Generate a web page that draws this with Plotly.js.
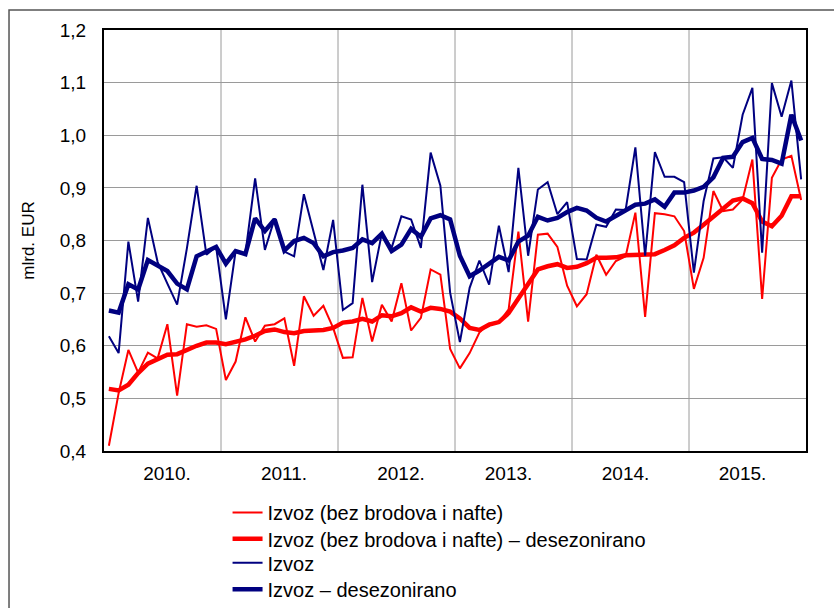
<!DOCTYPE html>
<html>
<head>
<meta charset="utf-8">
<script src="https://cdn.plot.ly/plotly-3.0.1.min.js"></script>
<style>
  html, body { margin: 0; padding: 0; background: #fff; }
  #chart { width: 834px; height: 608px; }
</style>
</head>
<body>
<div id="chart"></div>
<script>
// Monthly data, January 2010 – December 2015 (mlrd. EUR)
const yearLabels = ["2010.", "2011.", "2012.", "2013.", "2014.", "2015."];

const izvozBezBrodova = [
  0.410, 0.510, 0.592, 0.549, 0.587, 0.576, 0.641, 0.505, 0.641, 0.636, 0.639, 0.632,
  0.535, 0.570, 0.654, 0.608, 0.638, 0.641, 0.652, 0.562, 0.694, 0.657, 0.676, 0.634,
  0.577, 0.578, 0.691, 0.608, 0.678, 0.646, 0.719, 0.629, 0.653, 0.745, 0.735, 0.594,
  0.557, 0.586, 0.625, 0.642, 0.644, 0.669, 0.817, 0.646, 0.811, 0.813, 0.788, 0.714,
  0.675, 0.698, 0.773, 0.735, 0.761, 0.770, 0.853, 0.655, 0.852, 0.850, 0.846, 0.818,
  0.708, 0.767, 0.894, 0.856, 0.859, 0.878, 0.954, 0.689, 0.919, 0.954, 0.961, 0.877
];

const izvozBezBrodovaDesez = [
  0.518, 0.515, 0.526, 0.548, 0.566, 0.574, 0.583, 0.584, 0.593, 0.600, 0.606, 0.606,
  0.603, 0.607, 0.612, 0.619, 0.628, 0.631, 0.626, 0.624, 0.628, 0.629, 0.630, 0.634,
  0.644, 0.646, 0.651, 0.646, 0.658, 0.656, 0.662, 0.673, 0.665, 0.672, 0.670, 0.665,
  0.652, 0.634, 0.630, 0.640, 0.645, 0.662, 0.690, 0.720, 0.745, 0.751, 0.755, 0.748,
  0.750, 0.757, 0.767, 0.767, 0.768, 0.772, 0.773, 0.773, 0.774, 0.782, 0.791, 0.805,
  0.815, 0.830, 0.845, 0.860, 0.876, 0.880, 0.871, 0.836, 0.827, 0.847, 0.884, 0.884
];

const izvoz = [
  0.618, 0.586, 0.798, 0.684, 0.843, 0.759, 0.718, 0.678, 0.785, 0.904, 0.773, 0.788,
  0.650, 0.780, 0.775, 0.918, 0.782, 0.842, 0.779, 0.770, 0.888, 0.815, 0.744, 0.839,
  0.668, 0.681, 0.906, 0.721, 0.814, 0.786, 0.846, 0.840, 0.786, 0.967, 0.904, 0.701,
  0.607, 0.710, 0.762, 0.716, 0.828, 0.740, 0.938, 0.771, 0.897, 0.911, 0.850, 0.873,
  0.765, 0.764, 0.830, 0.826, 0.859, 0.858, 0.977, 0.771, 0.968, 0.921, 0.921, 0.911,
  0.739, 0.875, 0.956, 0.958, 0.938, 1.039, 1.090, 0.777, 1.099, 1.035, 1.104, 0.916
];

const izvozDesez = [
  0.667, 0.663, 0.717, 0.707, 0.763, 0.753, 0.742, 0.718, 0.707, 0.770, 0.780, 0.788,
  0.756, 0.780, 0.774, 0.842, 0.818, 0.840, 0.781, 0.799, 0.805, 0.795, 0.770, 0.778,
  0.781, 0.786, 0.802, 0.795, 0.813, 0.780, 0.792, 0.822, 0.807, 0.842, 0.848, 0.840,
  0.771, 0.732, 0.743, 0.757, 0.769, 0.762, 0.798, 0.809, 0.845, 0.838, 0.843, 0.854,
  0.862, 0.857, 0.843, 0.836, 0.847, 0.856, 0.868, 0.870, 0.878, 0.864, 0.891, 0.891,
  0.895, 0.902, 0.920, 0.957, 0.959, 0.987, 0.995, 0.955, 0.953, 0.946, 1.039, 0.990
];

const seriesNames = [
  "Izvoz (bez brodova i nafte)",
  "Izvoz (bez brodova i nafte) – desezonirano",
  "Izvoz",
  "Izvoz – desezonirano"
];

// month index axis: month m sits in the middle of its slot
const months = izvoz.map((_, i) => i + 0.5);

const RED = "#FF0000";
const NAVY = "#000080";
const FONT = "Liberation Sans, Arial, sans-serif";

function lineTrace(y, name, color, width, legendId) {
  return { x: months, y: y, name: name, type: "scatter", mode: "lines",
           line: { color: color, width: width, shape: "linear" },
           legend: legendId, hoverinfo: "skip" };
}

const traces = [
  lineTrace(izvozBezBrodova, seriesNames[0], RED, 2, "legend"),
  lineTrace(izvozBezBrodovaDesez, seriesNames[1], RED, 4.5, "legend2"),
  lineTrace(izvoz, seriesNames[2], NAVY, 2, "legend3"),
  lineTrace(izvozDesez, seriesNames[3], NAVY, 4.5, "legend4")
];

const tickPos = yearLabels.map((_, k) => 12 * k + (k < 3 ? 6.46 : 5.49));

const shapes = [];
for (let k = 1; k < yearLabels.length; k++) {
  shapes.push({ type: "line", xref: "x", yref: "paper", x0: 12 * k, x1: 12 * k, y0: 0, y1: 1,
                line: { color: "#9a9a9a", width: 1 }, layer: "below" });
}
// outer chart frame
shapes.push({ type: "rect", xref: "paper", yref: "paper",
              x0: -0.1353, x1: 1.3, y0: -0.6, y1: 1.0475,
              line: { color: "#555", width: 1.5 }, fillcolor: "rgba(0,0,0,0)" });

function legendAt(yPaper) {
  return { x: 0.176, y: yPaper, xanchor: "left", yanchor: "middle",
           font: { family: FONT, size: 20, color: "#000" },
           bgcolor: "rgba(0,0,0,0)", borderwidth: 0 };
}

const layout = {
  width: 834, height: 608,
  margin: { l: 104, r: 28, t: 30, b: 157, pad: 0, autoexpand: false },
  paper_bgcolor: "#fff", plot_bgcolor: "#fff",
  separators: ", ",
  font: { family: FONT, size: 19, color: "#000" },
  showlegend: true,
  legend: legendAt(-0.146),
  legend2: legendAt(-0.2085),
  legend3: legendAt(-0.2655),
  legend4: legendAt(-0.3285),
  xaxis: {
    range: [0, 72], tickmode: "array", tickvals: tickPos, ticktext: yearLabels,
    showgrid: false, zeroline: false, ticks: "", ticklabelstandoff: 4,
    showline: true, mirror: true, linecolor: "#000", linewidth: 2,
    tickfont: { family: FONT, size: 19, color: "#000" }
  },
  yaxis: {
    range: [0.4, 1.2], tickmode: "linear", tick0: 0.4, dtick: 0.1, tickformat: ".1f",
    showgrid: true, gridcolor: "#9a9a9a", gridwidth: 1, zeroline: false,
    ticks: "", ticklabelstandoff: 12,
    showline: true, mirror: true, linecolor: "#000", linewidth: 2,
    tickfont: { family: FONT, size: 19, color: "#000" },
    title: { text: "mlrd. EUR", font: { family: FONT, size: 17, color: "#000" }, standoff: 21 }
  },
  shapes: shapes
};

Plotly.newPlot("chart", traces, layout, { staticPlot: true, displayModeBar: false });
</script>
</body>
</html>
